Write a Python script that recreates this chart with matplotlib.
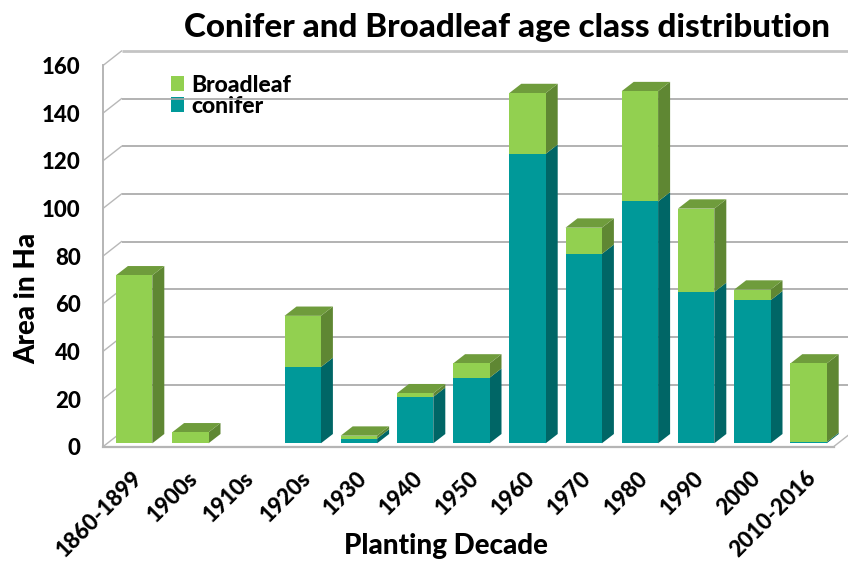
import matplotlib
matplotlib.use("Agg")
import matplotlib.pyplot as plt
from matplotlib.patches import Polygon, Patch

categories = ["1860-1899", "1900s", "1910s", "1920s", "1930", "1940", "1950",
              "1960", "1970", "1980", "1990", "2000", "2010-2016"]
conifer = [0, 0, 0, 32, 2, 19.5, 27.5, 121.5, 79.5, 101.5, 63.5, 60, 0.5]
broadleaf = [70.5, 4.6, 0, 21.5, 1.2, 1.5, 6, 25.5, 11, 46.3, 35, 4.5, 33]
y_ticks = [0, 20, 40, 60, 80, 100, 120, 140, 160]

GREEN, GREEN_TOP, GREEN_SIDE = "#92D050", "#6F9C3C", "#5F8733"
TEAL, TEAL_TOP, TEAL_SIDE = "#009999", "#007A7A", "#006666"
FONT = "Lato"
WEIGHT = 900
W, H = 848, 564

plt.rcParams["font.family"] = FONT
plt.rcParams["font.weight"] = "bold"
fig = plt.figure(figsize=(W / 100, H / 100), dpi=100)
left, right, y0, y160 = 103, 833.6, 446.7, 65.5
ax = fig.add_axes([left / W, 1 - y0 / H, (right - left) / W, (y0 - y160) / H])
ax.set_xlim(0, len(categories))
ax.set_ylim(0, 160)
for s in ax.spines.values():
    s.set_visible(False)
ax.patch.set_alpha(0)

# scale: data units per pixel
ux = len(categories) / (right - left)
uy = 160 / (y0 - y160)
wall_dx, wall_dy = 18.5 * ux, 14.5 * uy
bar_dx, bar_dy = 12 * ux, 9.3 * uy
bar_w = 36.4 * ux
shift_x, base = 3 * ux, 3.4 * uy

# walls
n = len(categories)
for v in y_ticks:
    lw = 2.0 if v in (160,) else 1.2
    col = "#C4C4C4" if v == 160 else "#A6A6A6"
    if v > 0:
        ax.plot([wall_dx, n + wall_dx], [v + wall_dy] * 2, color=col, lw=lw,
                clip_on=False, zorder=1, solid_capstyle="butt")
    ax.plot([0, wall_dx], [v, v + wall_dy], color="#B8B8B8", lw=1.0, clip_on=False, zorder=1)
ax.plot([0, 0], [0, 160], color="#B5B5B5", lw=1.4, clip_on=False, zorder=1)
ax.plot([0, n], [0, 0], color="#B5B5B5", lw=1.6, clip_on=False, zorder=1)
ax.plot([n, n + wall_dx], [0, wall_dy], color="#B8B8B8", lw=1.0, clip_on=False, zorder=1)


def draw_segment(x, bottom, height, face, side, top, is_top, z):
    r = x + bar_w / 2
    l = x - bar_w / 2
    ax.bar(x, height, width=bar_w, bottom=bottom, color=face, clip_on=False, zorder=z + 0.2)
    t = bottom + height
    ax.add_patch(Polygon([(r, bottom), (r + bar_dx, bottom + bar_dy), (r + bar_dx, t + bar_dy), (r, t)],
                         closed=True, fc=side, ec="none", clip_on=False, zorder=z))
    if is_top:
        ax.add_patch(Polygon([(l, t), (r, t), (r + bar_dx, t + bar_dy), (l + bar_dx, t + bar_dy)],
                             closed=True, fc=top, ec="none", clip_on=False, zorder=z + 0.1))


for i, (c, b) in enumerate(zip(conifer, broadleaf)):
    x = i + 0.5 + shift_x
    z = 3 + i
    if c > 0:
        draw_segment(x, base, c, TEAL, TEAL_SIDE, TEAL_TOP, b == 0, z)
    if b > 0:
        draw_segment(x, base + c, b, GREEN, GREEN_SIDE, GREEN_TOP, True, z)

ax.set_xticks([i + 0.5 for i in range(n)])
ax.set_xticklabels(categories, rotation=45, ha="right", rotation_mode="anchor", fontsize=16, fontweight=WEIGHT)
ax.set_yticks(y_ticks)
ax.set_yticklabels([str(v) for v in y_ticks], fontsize=16, fontweight=WEIGHT)
ax.tick_params(axis="x", length=0, pad=15)
ax.tick_params(axis="y", length=0, pad=16)

fig.text(507 / W, 1 - 27 / H, "Conifer and Broadleaf age class distribution", ha="center", va="center",
         fontsize=23.9, fontweight=WEIGHT, color="black")
fig.text(27 / W, 1 - 298 / H, "Area in Ha", rotation=90, ha="center", va="center", fontsize=20, fontweight=WEIGHT)
fig.text(446 / W, 1 - 546 / H, "Planting Decade", ha="center", va="center", fontsize=20, fontweight=WEIGHT)

leg = fig.legend([Patch(fc=GREEN), Patch(fc=TEAL)], ["Broadleaf", "conifer"],
                 loc="upper left", bbox_to_anchor=(165 / W, 1 - 69 / H),
                 prop={"family": FONT, "size": 16.5, "weight": WEIGHT},
                 frameon=True, framealpha=1, edgecolor="none", facecolor="white", fancybox=False,
                 handlelength=0.6, handleheight=0.64, handletextpad=0.3, labelspacing=0.0,
                 borderpad=0.25, borderaxespad=0)
leg.set_zorder(2)
ax.set_zorder(3)
fig.savefig("out.png", dpi=100)
